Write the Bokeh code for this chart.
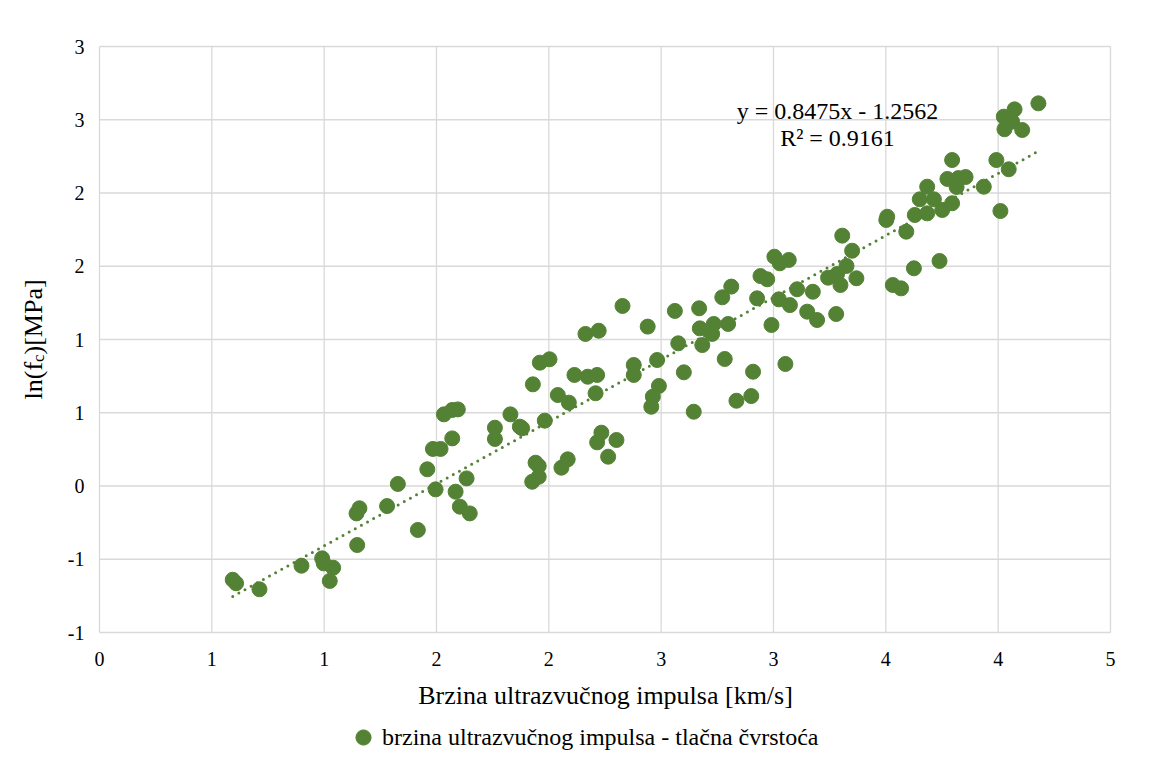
import math
from bokeh.plotting import figure
from bokeh.models import Range1d, Label, Legend, LegendItem
from bokeh.core.properties import value
from bokeh.embed import file_html
from bokeh.resources import INLINE

# ---- data ----
speed = [0.593, 0.608, 0.712, 0.899, 0.991, 0.998, 1.040, 1.025, 1.147, 1.144,
         1.157, 1.280, 1.328, 1.417, 1.459, 1.484, 1.518, 1.496, 1.570, 1.533,
         1.570, 1.595, 1.585, 1.604, 1.648, 1.634, 1.760, 1.760, 1.829, 1.871,
         1.881, 1.929, 1.960, 2.003, 1.982, 1.941, 1.955, 1.926, 1.955, 2.056,
         2.084, 2.040, 2.089, 2.114, 2.173, 2.215, 2.163, 2.222, 2.208, 2.234,
         2.215, 2.301, 2.264, 2.328, 2.440, 2.378, 2.378, 2.482, 2.490, 2.463,
         2.456, 2.561, 2.576, 2.601, 2.645, 2.669, 2.672, 2.683, 2.734, 2.727,
         2.783, 2.772, 2.812, 2.798, 2.835, 2.901, 2.909, 2.927, 2.942, 2.972,
         2.991, 3.004, 3.068, 3.028, 3.024, 3.073, 3.053, 3.105, 3.150, 3.175,
         3.194, 3.279, 3.243, 3.283, 3.325, 3.298, 3.369, 3.306, 3.350, 3.506,
         3.502, 3.531, 3.568, 3.591, 3.625, 3.739, 3.629, 3.684, 3.651, 3.714,
         3.751, 3.684, 3.795, 3.795, 3.774, 3.815, 3.855, 3.823, 3.936, 3.992,
         4.047, 4.010, 4.025, 4.073, 4.062, 4.028, 4.107, 4.179]
ln_fc = [-0.640, -0.664, -0.705, -0.544, -0.494, -0.528, -0.558, -0.648, -0.403, -0.187,
         -0.152, -0.137, 0.014, -0.300, 0.114, 0.253, 0.253, -0.023, 0.325, 0.489,
         0.519, 0.523, -0.039, -0.141, -0.187, 0.052, 0.398, 0.321, 0.489, 0.405,
         0.394, 0.694, 0.842, 0.865, 0.446, 0.159, 0.137, 0.029, 0.063, 0.125,
         0.182, 0.621, 0.569, 0.758, 0.746, 0.758, 1.038, 1.060, 0.633, 0.364,
         0.298, 0.314, 0.200, 1.229, 1.088, 0.826, 0.758, 0.860, 0.683, 0.610,
         0.541, 1.195, 0.974, 0.776, 0.507, 1.213, 1.076, 0.962, 1.106, 1.038,
         0.867, 1.288, 1.361, 1.106, 0.582, 0.614, 0.780, 1.281, 1.433, 1.411,
         1.099, 1.565, 1.543, 1.520, 1.274, 1.235, 0.833, 1.343, 1.190, 1.326,
         1.133, 1.174, 1.422, 1.447, 1.502, 1.372, 1.418, 1.709, 1.606, 1.838,
         1.816, 1.372, 1.349, 1.736, 1.486, 1.536, 1.850, 1.861, 1.957, 1.957,
         1.884, 2.043, 1.930, 2.225, 2.096, 2.041, 2.109, 2.102, 2.043, 2.225,
         2.162, 1.877, 2.521, 2.571, 2.487, 2.435, 2.430, 2.612]

trend_slope = 0.8475
trend_intercept = -1.2562
trend_r2 = 0.9161

x_ticks = [0, 0.5, 1.0, 1.5, 2.0, 2.5, 3.0, 3.5, 4.0, 4.5]
x_tick_labels = ["0", "1", "1", "2", "2", "3", "3", "4", "4", "5"]
y_ticks = [-1.0, -0.5, 0, 0.5, 1.0, 1.5, 2.0, 2.5, 3.0]
y_tick_labels = ["-1", "-1", "0", "1", "1", "2", "2", "3", "3"]

x_title = "Brzina ultrazvučnog impulsa [km/s]"
series_name = "brzina ultrazvučnog impulsa - tlačna čvrstoća"

GREEN = "#548235"
GRID = "#d9d9d9"
FONT = "Liberation Serif"
INK = "#000000"

# ---- layout: plot area x=0..4.5, y=-1..3 inside a canvas-wide frame ----
W, H = 1152, 770
PX_LEFT, PX_RIGHT, PX_TOP, PX_BOTTOM = 99, 1110, 46, 632
x_lo, x_hi = x_ticks[0], x_ticks[-1]
y_lo, y_hi = y_ticks[0], y_ticks[-1]
xu = (PX_RIGHT - PX_LEFT) / (x_hi - x_lo)   # px per x unit
yu = (PX_BOTTOM - PX_TOP) / (y_hi - y_lo)   # px per y unit
xr = Range1d(x_lo - PX_LEFT / xu, x_lo + (W - PX_LEFT) / xu)
yr = Range1d(y_lo - (H - PX_BOTTOM) / yu, y_hi + PX_TOP / yu)


def dx(px):  # page pixel -> data x
    return x_lo + (px - PX_LEFT) / xu


def dy(py):  # page pixel -> data y
    return y_lo + (PX_BOTTOM - py) / yu


p = figure(width=W, height=H, output_backend="svg", toolbar_location=None,
           x_range=xr, y_range=yr, min_border=0)
p.min_border_left = p.min_border_right = p.min_border_top = p.min_border_bottom = 0
p.background_fill_color = "white"
p.border_fill_color = "white"
p.outline_line_color = None
p.axis.visible = False
p.grid.visible = False

# gridlines of the plot area (Excel style box)
p.segment(x0=x_ticks, x1=x_ticks, y0=[y_lo] * len(x_ticks), y1=[y_hi] * len(x_ticks),
          line_color=GRID, line_width=1.3)
p.segment(x0=[x_lo] * len(y_ticks), x1=[x_hi] * len(y_ticks), y0=y_ticks, y1=y_ticks,
          line_color=GRID, line_width=1.3)

# tick labels
p.text(x=x_ticks, y=[y_lo] * len(x_ticks), text=x_tick_labels, y_offset=19,
       text_align="center", text_baseline="top", text_font=value(FONT),
       text_font_size="20px", text_color=INK)
p.text(x=[x_lo] * len(y_ticks), y=y_ticks, text=y_tick_labels, x_offset=-15,
       text_align="right", text_baseline="middle", text_font=value(FONT),
       text_font_size="20px", text_color=INK)

# trend line
tx = [min(speed), max(speed)]
ty = [trend_slope * v + trend_intercept for v in tx]
p.line(tx, ty, line_color=GREEN, line_width=3, line_dash="0 7", line_cap="round")

pts = p.scatter(speed, ln_fc, size=15, fill_color=GREEN, line_color=GREEN, line_width=1)

# equation
p.add_layout(Label(x=dx(837), y=dy(110), text=f"y = {trend_slope}x - {abs(trend_intercept)}",
                   text_font=FONT, text_font_size="24px", text_align="center",
                   text_baseline="middle", text_color=INK))
p.add_layout(Label(x=dx(837), y=dy(137), text=f"R² = {trend_r2}",
                   text_font=FONT, text_font_size="24px", text_align="center",
                   text_baseline="middle", text_color=INK))

# x axis title
p.add_layout(Label(x=dx(605), y=dy(695), text=x_title, text_font=FONT,
                   text_font_size="26px", text_align="center", text_baseline="middle",
                   text_color=INK))

# y axis title ln(f_c)[MPa]
ang = math.pi / 2
p.add_layout(Label(x=dx(33), y=dy(399), text="ln(f", angle=ang, text_font=FONT,
                   text_font_size="26px", text_align="left", text_baseline="alphabetic",
                   text_color=INK))
p.add_layout(Label(x=dx(38), y=dy(361.5), text="c", angle=ang, text_font=FONT,
                   text_font_size="17px", text_align="left", text_baseline="alphabetic",
                   text_color=INK))
p.add_layout(Label(x=dx(33), y=dy(354), text=")[MPa]", angle=ang, text_font=FONT,
                   text_font_size="26px", text_align="left", text_baseline="alphabetic",
                   text_color=INK))

legend = Legend(items=[LegendItem(label=series_name, renderers=[pts])],
                location=(344, H - 756), orientation="horizontal",
                glyph_width=38, glyph_height=38, label_standoff=0,
                padding=0, margin=0, spacing=0,
                background_fill_alpha=0, border_line_color=None,
                label_text_font=FONT, label_text_font_size="24px",
                label_text_color=INK)
p.add_layout(legend, "center")

open("out.html", "w").write(file_html(p, INLINE))
